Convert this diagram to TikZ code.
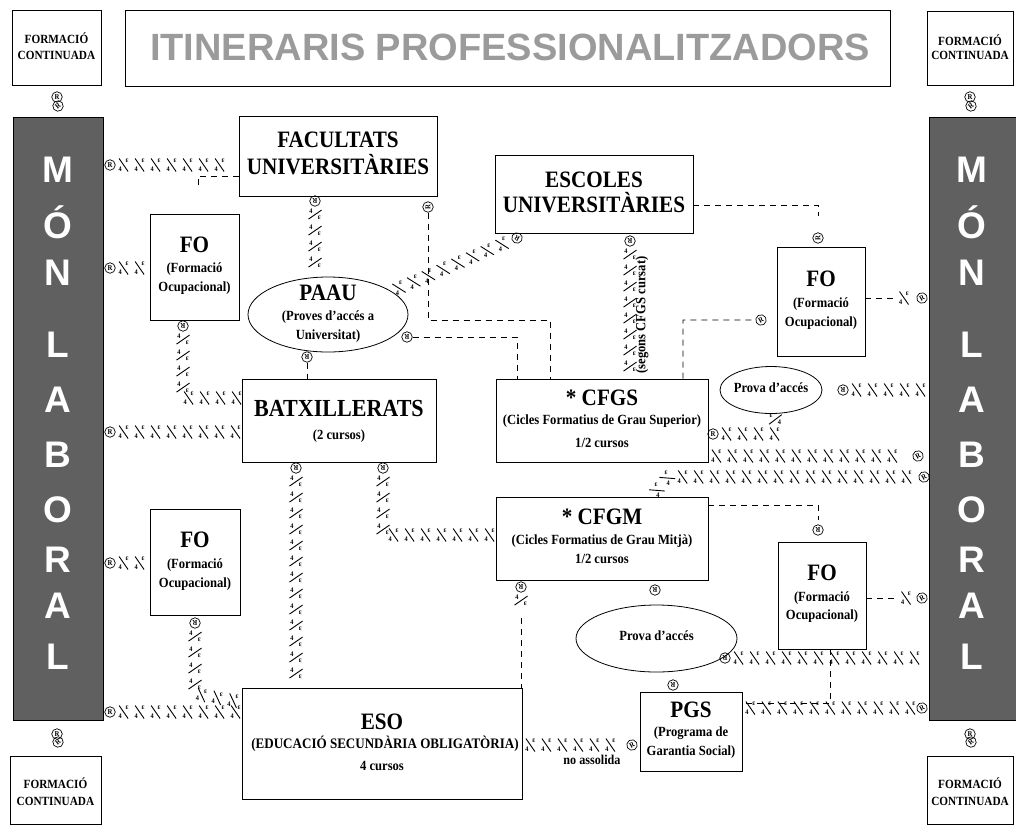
\documentclass[tikz,border=0pt]{standalone}
\usepackage{fontspec}
\setmainfont{Liberation Serif}[FakeStretch=0.9]
\newfontfamily\sansB{Liberation Sans}
\usetikzlibrary{decorations.markings,shapes.geometric}
\definecolor{bargray}{RGB}{96,96,96}
\definecolor{titlegray}{RGB}{155,155,155}
\newcommand\fsz[1]{\fontsize{#1}{#1}\selectfont}
\tikzset{
  box/.style={draw, line width=0.8pt, inner sep=0pt},
  ell/.style={ellipse, draw, line width=0.8pt, inner sep=0pt},
  big/.style={inner sep=0pt, font=\bfseries\fsz{23.5}},
  mid/.style={inner sep=0pt, font=\bfseries\fsz{14}},
  sml/.style={inner sep=0pt, font=\bfseries\fsz{12.5}},
  bar/.style={fill=bargray, draw=black, line width=0.6pt, inner sep=0pt},
  monletter/.style={inner sep=0pt, text=white, font=\sansB\bfseries\fsz{37}},
  mk/.style={circle, draw, line width=0.7pt, minimum size=10.5pt, inner sep=0pt, font=\bfseries\fsz{7.5}},
  dline/.style={line width=0.75pt, dash pattern=on 6pt off 5pt},
  glyphs/.style={postaction={decorate, decoration={markings,
     mark=between positions 8pt and -5pt step 16pt with {
       \draw[line width=0.9pt] (-4.5pt,6.5pt) -- (4.5pt,-6.5pt);
       \node[inner sep=0pt, font=\bfseries\fsz{7.5}] at (3.4pt,4.2pt) {ɛ};
       \node[inner sep=0pt, font=\bfseries\fsz{7}] at (-3.4pt,-4pt) {4};}}}}
}
\begin{document}
\begin{tikzpicture}[x=1pt,y=-1pt]
\useasboundingbox (0,0) rectangle (1016,828);

% ---------- top / bottom boxes ----------
\node[box, minimum width=89pt, minimum height=75pt] (fctl) at (56.5,47.5) {};
\node[sml] (fctl1) at (56.5,38) {FORMACIÓ};
\node[sml] (fctl2) at (56.5,55) {CONTINUADA};
\node[box, minimum width=765pt, minimum height=76pt] (title) at (507.5,48) {};
\node[inner sep=0pt, text=titlegray, font=\sansB\bfseries\fsz{38}] (titleT) at (510,47) {ITINERARIS PROFESSIONALITZADORS};
\node[box, minimum width=86pt, minimum height=74pt] (fctr) at (970,48) {};
\node[sml] (fctr1) at (970,40) {FORMACIÓ};
\node[sml] (fctr2) at (970,55) {CONTINUADA};
\node[box, minimum width=91pt, minimum height=68pt] (fcbl) at (55.5,790) {};
\node[sml] (fcbl1) at (55.5,783) {FORMACIÓ};
\node[sml] (fcbl2) at (55.5,801) {CONTINUADA};
\node[box, minimum width=86pt, minimum height=68pt] (fcbr) at (970,790) {};
\node[sml] (fcbr1) at (970,783) {FORMACIÓ};
\node[sml] (fcbr2) at (970,801) {CONTINUADA};

% ---------- MÓN LABORAL bars ----------
\node[bar, minimum width=90pt, minimum height=603pt] (monL) at (58,418.5) {};
\node[bar, minimum width=90pt, minimum height=603pt] (monR) at (974,418.5) {};
\foreach \l/\y [count=\i] in {M/170, Ó/222, N/273, L/345, A/400, B/455, O/510, R/560, A/606, L/657}{
  \node[monletter] (ml\i) at (58,\y) {\l};
  \node[monletter] (mr\i) at (972,\y) {\l};
}
\node[mk] (q1) at (57,97) {R};  \node[mk, rotate=40] (q2) at (58,106) {R};
\node[mk] (q3) at (970,97) {R}; \node[mk, rotate=40] (q4) at (971,106) {R};
\node[mk] (q5) at (57,734) {R}; \node[mk, rotate=40] (q6) at (58,742) {R};
\node[mk] (q7) at (970,734) {R}; \node[mk, rotate=40] (q8) at (971,742) {R};

% ---------- main boxes ----------
\node[box, minimum width=198pt, minimum height=80pt] (fac) at (338,156) {};
\node[big] (fac1) at (338,140) {FACULTATS};
\node[big] (fac2) at (338,165) {UNIVERSITÀRIES};
\node[box, minimum width=198pt, minimum height=78pt] (esc) at (594,194) {};
\node[big] (esc1) at (594,180) {ESCOLES};
\node[big] (esc2) at (594,203) {UNIVERSITÀRIES};

\node[box, minimum width=89pt, minimum height=106pt] (foLT) at (194.5,267) {};
\node[big] (foLT1) at (194.5,245) {FO};
\node[mid] (foLT2) at (194.5,269) {(Formació};
\node[mid] (foLT3) at (194.5,288) {Ocupacional)};

\node[ell, minimum width=160pt, minimum height=75pt] (paau) at (328,314.5) {};
\node[big] (paau1) at (328,293) {PAAU};
\node[mid] (paau2) at (328,317) {(Proves d’accés a};
\node[mid] (paau3) at (328,336) {Universitat)};

\node[box, minimum width=194pt, minimum height=83pt] (batx) at (339,420.5) {};
\node[big, font=\bfseries\fsz{24.5}] (batx1) at (339,408) {BATXILLERATS};
\node[mid] (batx2) at (339,436) {(2 cursos)};

\node[box, minimum width=212pt, minimum height=83pt] (cfgs) at (602,420.5) {};
\node[big] (cfgs1) at (602,398) {* CFGS};
\node[mid] (cfgs2) at (602,421) {(Cicles Formatius de Grau Superior)};
\node[mid] (cfgs3) at (602,443) {1/2 cursos};

\node[box, minimum width=88pt, minimum height=109pt] (foRT) at (821,301.5) {};
\node[big] (foRT1) at (821,279) {FO};
\node[mid] (foRT2) at (821,304) {(Formació};
\node[mid] (foRT3) at (821,323) {Ocupacional)};

\node[ell, minimum width=102pt, minimum height=47pt] (provaT) at (771,390) {};
\node[mid] (provaT1) at (771,388) {Prova d’accés};

\node[box, minimum width=212pt, minimum height=83pt] (cfgm) at (602,538.5) {};
\node[big] (cfgm1) at (602,517) {* CFGM};
\node[mid] (cfgm2) at (602,541) {(Cicles Formatius de Grau Mitjà)};
\node[mid] (cfgm3) at (602,559) {1/2 cursos};

\node[box, minimum width=90pt, minimum height=106pt] (foLB) at (195,562) {};
\node[big] (foLB1) at (195,540) {FO};
\node[mid] (foLB2) at (195,565) {(Formació};
\node[mid] (foLB3) at (195,584) {Ocupacional)};

\node[box, minimum width=88pt, minimum height=107pt] (foRB) at (822,595.5) {};
\node[big] (foRB1) at (822,573) {FO};
\node[mid] (foRB2) at (822,598) {(Formació};
\node[mid] (foRB3) at (822,616) {Ocupacional)};

\node[ell, minimum width=161pt, minimum height=67pt] (provaB) at (656.5,638.5) {};
\node[mid] (provaB1) at (656.5,636) {Prova d’accés};

\node[box, minimum width=102pt, minimum height=79pt] (pgs) at (691,731.5) {};
\node[big] (pgs1) at (691,710) {PGS};
\node[mid] (pgs2) at (691,733) {(Programa de};
\node[mid] (pgs3) at (691,752) {Garantia Social)};

\node[box, minimum width=280pt, minimum height=111pt] (eso) at (382,743.5) {};
\node[big] (eso1) at (382,722) {ESO};
\node[mid, font=\bfseries\fsz{14.5}] (eso2) at (385,744) {(EDUCACIÓ SECUNDÀRIA OBLIGATÒRIA)};
\node[mid] (eso3) at (382,766) {4 cursos};

% ---------- connectors ----------
\node[mk] (k1) at (110,165) {R};
\path[glyphs] (k1) -- (fac.west |- k1);
\draw[dline] (198,185) -- (198,176) -- (fac.west |- 0,176);

\node[mk] (k2) at (110,268) {R};
\path[glyphs] (k2) -- (foLT.west |- k2);

\node[mk, rotate=180] (k3) at (183,326) {R};
\path[glyphs] (k3) -- (183,398) -- (batx.west |- 0,398);

\node[mk] (k4) at (110,432) {R};
\path[glyphs] (k4) -- (batx.west |- k4);

\node[mk, rotate=180] (k5) at (315,201) {R};
\path[glyphs] (k5) -- (k5 |- paau.north);

\node[mk, rotate=150] (k6) at (517,238) {R};
\path[glyphs] (paau.20) -- (k6);

\node[mk, rotate=90] (k7) at (428,207) {R};
\draw[dline] (k7) -- (428,320) -- (550,320) -- (550,0 |- cfgs.north);

\node[mk, rotate=180] (k8) at (407,337) {R};
\draw[dline] (k8) -- (517,337) -- (517,0 |- cfgs.north);

\node[mk, rotate=180] (k9) at (307,357) {R};
\draw[dline] (k9) -- (k9 |- batx.north);

\node[mk, rotate=180] (k10) at (630,241) {R};
\path[glyphs] (k10) -- (k10 |- cfgs.north);
\node[mid, rotate=90] (segons) at (642,315) {(segons CFGS cursat)};

\node[mk, rotate=90] (k11) at (818,238) {R};
\draw[dline] (esc.east |- 0,205) -- (818,205) -- (818,216);

\node[mk, rotate=30] (k12) at (761,320) {R};
\draw[dline] (683,0 |- cfgs.north) -- (683,320) -- (k12);

\node[mk, rotate=30] (k13) at (922,298) {R};
\draw[dline] (foRT.east |- k13) -- (896,298);
\path[glyphs] (896,298) -- (k13);

\node[mk, rotate=180] (k14) at (843,390) {R};
\path[glyphs] (k14) -- (monR.west |- k14);

\node[mk] (k15) at (713,434) {R};
\path[glyphs] (k15) -- (776,434) -- (provaT.-80);

\node[mk, rotate=30] (k16) at (918,456) {R};
\path[glyphs] (cfgs.east |- k16) -- (k16);

\node[mk, rotate=30] (k17) at (924,477) {R};
\path[glyphs] (652,0 |- cfgm.north) -- (668,477) -- (k17);

\node[mk, rotate=180] (k18) at (818,530) {R};
\draw[dline] (cfgm.east |- 0,505) -- (818,505) -- (818,520);

\node[mk, rotate=30] (k19) at (922,598) {R};
\draw[dline] (foRB.east |- k19) -- (898,598);
\path[glyphs] (898,598) -- (k19);

\node[mk, rotate=180] (k20) at (725,658) {R};
\path[glyphs] (k20) -- (monR.west |- k20);

\draw[dline] (830,0 |- foRB.south) -- (830,703) -- (pgs.east |- 0,703);

\node[mk, rotate=30] (k22) at (922,708) {R};
\path[glyphs] (pgs.east |- k22) -- (k22);

\node[mk, rotate=180] (k23) at (296,468) {R};
\path[glyphs] (k23) -- (k23 |- eso.north);

\node[mk, rotate=180] (k24) at (383,468) {R};
\path[glyphs] (k24) -- (383,535) -- (cfgm.west |- 0,535);

\node[mk, rotate=180] (k25) at (521,587) {R};
\path[glyphs] (k25) -- (521,616);
\draw[dline] (521,618) -- (521,0 |- eso.north);

\node[mk, rotate=180] (k26) at (655,590) {R};

\node[mk] (k27) at (110,563) {R};
\path[glyphs] (k27) -- (foLB.west |- k27);

\node[mk, rotate=180] (k28) at (195,623) {R};
\path[glyphs] (k28) -- (195,694) -- (eso.west |- 0,702);

\node[mk] (k29) at (110,712) {R};
\path[glyphs] (k29) -- (eso.west |- k29);

\node[mk, rotate=30] (k30) at (632,745) {R};
\path[glyphs] (eso.east |- k30) -- (k30);
\node[inner sep=0pt, font=\bfseries\fsz{13.5}] (noass) at (592,760) {no assolida};

\node[mk, rotate=180] (k31) at (673,685) {R};
\end{tikzpicture}
\end{document}
